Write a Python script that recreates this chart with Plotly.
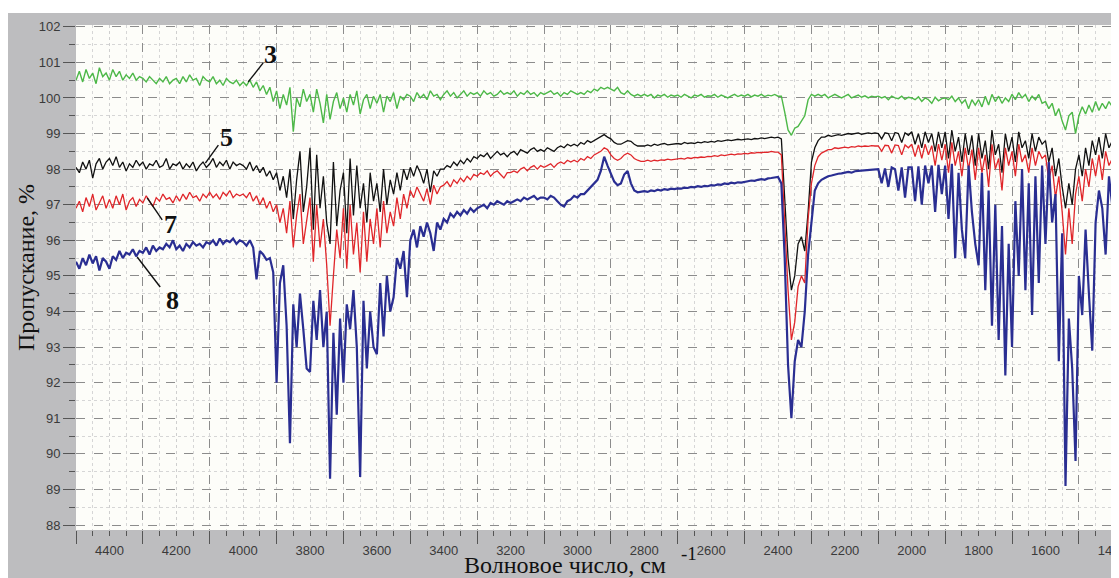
import plotly.graph_objects as go

# ---------------- data ----------------
wavenumber = list(range(4500, 1379, -10))  # cm-1 sampling grid, 4500 ... 1380

label_wavenumbers = [4400, 4200, 4000, 3800, 3600, 3400, 3200, 3000, 2800,
                     2600, 2400, 2200, 2000, 1800, 1600, 1400]
long_tick_wavenumbers = [4500, 4300, 4100, 3900, 3700, 3500, 3300, 3100, 2900,
                         2700, 2500, 2300, 2100, 1900, 1700, 1500]

# sample 3 (green)
t3 = [
    100.5, 100.75, 100.45, 100.8, 100.55, 100.7, 100.4, 100.85, 100.6, 100.7,
    100.5, 100.8, 100.6, 100.75, 100.5, 100.65, 100.55, 100.7, 100.5, 100.6,
    100.55, 100.45, 100.6, 100.5, 100.4, 100.55, 100.45, 100.6, 100.4, 100.5,
    100.55, 100.4, 100.6, 100.45, 100.65, 100.5, 100.55, 100.35, 100.6, 100.5,
    100.45, 100.6, 100.4, 100.5, 100.35, 100.55, 100.45, 100.4, 100.5, 100.35,
    100.45, 100.35, 100.5, 100.3, 100.45, 100.2, 100.35, 100.1, 100.3, 99.9,
    100.2, 99.7, 100.1, 99.8, 100.3, 99.05, 100.0, 99.75, 100.25, 99.9,
    100.1, 99.6, 100.25, 99.85, 99.3, 100.1, 99.4, 99.9, 100.15, 99.7,
    100.0, 99.6, 100.1, 99.8, 100.2, 99.55, 99.95, 100.1, 99.7, 100.05,
    99.85, 100.1, 99.6, 100.05, 99.9, 100.15, 99.7, 100.05, 99.95, 100.1,
    100.05, 99.9, 100.15, 100.0, 100.1, 99.95, 100.2, 100.05, 100.1, 99.95,
    100.1, 100.2, 100.05, 100.15, 100.0, 100.1, 100.2, 100.05, 100.15, 100.1,
    100.15, 100.05, 100.2, 100.1, 100.15, 100.05, 100.1, 100.2, 100.1, 100.15,
    100.1, 100.2, 100.05, 100.15, 100.1, 100.2, 100.1, 100.15, 100.05, 100.15,
    100.1, 100.15, 100.2, 100.1, 100.15, 100.05, 100.15, 100.1, 100.2, 100.15,
    100.1, 100.15, 100.1, 100.2, 100.15, 100.25, 100.2, 100.3, 100.25, 100.3,
    100.25, 100.2, 100.3, 100.15, 100.1, 100.2, 100.1, 100.05, 100.1, 100.05,
    100.1, 100.05, 100.1, 100.0, 100.08, 100.05, 100.1, 100.02, 100.08, 100.05,
    100.08, 100.02, 100.1, 100.05, 100.0, 100.08, 100.05, 100.1, 100.02, 100.06,
    100.05, 100.1, 100.02, 100.08, 100.05, 100.0, 100.06, 100.1, 100.04, 100.08,
    100.05, 100.1, 100.03, 100.08, 100.05, 100.1, 100.04, 100.08, 100.06, 100.1,
    100.05, 100.05, 99.6, 99.1, 98.95, 99.15, 99.2, 99.35, 99.5, 99.95,
    100.1, 100.05, 100.1, 100.05, 100.1, 100.0, 100.05, 100.1, 100.05, 100.0,
    100.05, 100.1, 100.0, 100.05, 100.08, 100.02, 100.06, 100.0, 100.05, 100.03,
    100.05, 100.0, 100.04, 99.95, 100.05, 100.0, 99.98, 100.05, 99.96, 100.02,
    100.0, 99.95, 100.03, 99.9, 100.0, 99.95, 99.85, 100.02, 99.92, 99.98,
    100.0, 99.95, 100.05, 99.9, 100.0, 99.85, 99.95, 99.7, 99.95, 99.8,
    99.95, 99.75, 100.05, 99.8, 100.1, 99.9, 100.05, 99.85, 100.0, 99.9,
    100.1, 99.95, 100.15, 100.0, 100.1, 99.9, 100.05, 99.95, 100.1, 99.85,
    99.9, 99.7, 99.85, 99.5, 99.7, 99.35, 99.1, 99.5, 99.6, 99.0,
    99.5, 99.75, 99.55, 99.8, 99.6, 99.9, 99.65, 99.85, 99.7, 99.9,
    99.75, 99.95, 99.8,
]

# sample 5 (black)
t5 = [
    98.05, 97.9, 98.2, 98.0, 98.25, 97.75, 98.15, 98.3, 98.0, 98.2,
    98.3, 98.1, 98.35, 98.05, 98.2, 97.95, 98.15, 98.05, 98.25, 98.1,
    98.2, 98.0, 98.15, 98.1, 98.25, 98.05, 98.1, 98.3, 98.0, 98.15,
    98.1, 98.2, 98.0, 98.15, 98.05, 98.2, 97.95, 98.1, 98.2, 98.05,
    98.15, 98.3, 98.05, 98.2, 98.1, 98.25, 98.0, 98.2, 98.1, 98.15,
    98.1, 98.0, 98.2, 97.95, 98.1, 97.9, 98.05, 97.8, 97.95, 97.7,
    97.9, 97.4, 97.8, 97.2, 98.0, 96.6, 97.7, 98.5, 96.8, 97.5,
    98.6, 96.3, 98.4, 96.9, 97.8, 96.5, 95.9, 98.2, 96.4, 97.4,
    97.9, 96.2, 98.3, 96.7, 98.1, 96.9, 97.6, 96.5, 97.9, 97.1,
    97.6, 96.8, 98.0, 97.0, 97.7, 97.3, 97.9, 97.4, 98.0, 97.7,
    98.05, 97.8, 98.1, 97.9, 97.6, 98.0, 97.35, 97.95, 97.8, 98.0,
    98.0, 98.1, 98.05, 98.2, 98.1, 98.25, 98.15, 98.3, 98.2, 98.35,
    98.3, 98.4, 98.35, 98.45, 98.3, 98.4, 98.5, 98.4, 98.45, 98.35,
    98.45, 98.5, 98.4, 98.55, 98.5, 98.45, 98.55, 98.6, 98.5, 98.55,
    98.5, 98.6, 98.55, 98.5, 98.6, 98.65, 98.6, 98.7, 98.65, 98.7,
    98.65, 98.75, 98.7, 98.8, 98.75, 98.8, 98.85, 98.9, 98.97, 98.9,
    98.85, 98.75, 98.7, 98.7, 98.75, 98.8, 98.78, 98.7, 98.65, 98.65,
    98.65, 98.68, 98.65, 98.7, 98.67, 98.7, 98.72, 98.68, 98.7, 98.72,
    98.72, 98.7, 98.75, 98.72, 98.74, 98.72, 98.76, 98.74, 98.77, 98.75,
    98.78, 98.76, 98.8, 98.78, 98.8, 98.82, 98.8, 98.82, 98.84, 98.82,
    98.84, 98.85, 98.83, 98.86, 98.85, 98.88, 98.86, 98.88, 98.9, 98.88,
    98.9, 98.85, 97.0, 95.5, 94.6, 95.0, 95.9, 96.1, 95.7, 96.8,
    98.2, 98.6, 98.8, 98.9, 98.9, 98.95, 98.92, 98.95, 98.97, 98.95,
    98.97, 99.0, 98.98, 99.0, 99.02, 98.98, 99.0, 99.02, 99.0, 99.02,
    99.0, 98.85, 99.02, 99.0, 98.8, 99.03, 99.0, 98.75, 99.02, 98.95,
    99.05, 98.7, 99.0, 98.6, 99.05, 98.75, 99.0, 98.5, 99.05, 98.6,
    99.05, 98.3, 99.1, 98.5, 98.9, 98.2, 99.0, 98.4, 98.95, 98.1,
    99.0, 98.3, 98.8, 98.0, 99.1, 98.4, 98.7, 97.9, 99.0, 98.5,
    98.9, 98.2, 99.05, 98.6, 98.8, 98.3, 99.0, 98.5, 98.9, 98.7,
    98.8, 98.2, 98.6, 97.8, 98.3, 97.5, 96.9, 97.6, 97.0, 98.0,
    98.4, 97.8, 98.6, 98.1, 98.8, 98.4, 98.9, 98.3, 99.0, 98.6,
    98.8, 98.5, 98.9,
]

# sample 7 (red)
t7 = [
    96.9, 97.1, 96.8, 97.2, 96.95, 97.3, 96.85, 97.05, 97.25, 96.9,
    97.15, 96.9, 97.25, 97.0, 97.3, 96.85, 97.1, 97.2, 96.95, 97.15,
    97.05, 97.25, 97.1, 96.95, 97.2, 97.1, 97.3, 97.15, 97.2, 97.05,
    97.25, 97.1, 97.3, 97.15, 97.35, 97.2, 97.25, 97.1, 97.3, 97.2,
    97.35, 97.2, 97.3, 97.15, 97.35, 97.25, 97.4, 97.2, 97.3, 97.25,
    97.3, 97.2, 97.35, 97.1, 97.25, 97.0, 97.2, 96.9, 97.1, 96.8,
    97.0, 96.5, 96.9, 96.2, 97.1, 95.8, 96.7, 97.3, 95.9, 96.6,
    97.2, 95.4, 97.0, 95.8, 96.6, 95.3, 93.6, 95.0, 96.3, 95.5,
    96.9, 95.2, 97.0, 95.6, 96.5, 95.1, 96.8, 95.4, 96.6, 95.9,
    96.9, 95.8, 97.1, 96.2, 96.8, 96.4, 97.2, 96.6, 97.3, 96.9,
    97.4, 97.2, 97.5, 97.3, 97.1, 97.45, 97.0, 97.55, 97.3, 97.5,
    97.55, 97.65, 97.5, 97.7, 97.6, 97.75, 97.65, 97.8, 97.7, 97.85,
    97.8, 97.9, 97.85, 97.95, 97.8, 97.9, 97.95, 97.85, 97.75, 97.9,
    97.9, 97.95, 97.9, 98.0, 98.05, 97.95, 98.05, 98.1, 98.0, 98.1,
    98.05, 98.1, 98.15, 98.05, 98.15, 98.2, 98.15, 98.25, 98.2, 98.25,
    98.2, 98.3, 98.25, 98.35, 98.3, 98.4, 98.45, 98.5, 98.6, 98.55,
    98.4, 98.3, 98.25, 98.3, 98.4, 98.45, 98.4, 98.3, 98.25, 98.22,
    98.22, 98.25, 98.22, 98.25, 98.23, 98.26, 98.25, 98.28, 98.26, 98.28,
    98.28, 98.3, 98.28, 98.32, 98.3, 98.33, 98.32, 98.34, 98.33, 98.36,
    98.35, 98.38, 98.36, 98.4, 98.38, 98.4, 98.42, 98.4, 98.43, 98.42,
    98.44, 98.43, 98.46, 98.45, 98.47, 98.46, 98.48, 98.47, 98.5, 98.48,
    98.48, 98.4, 96.5, 94.6, 93.2, 93.7, 94.7, 95.0, 94.8, 96.6,
    97.6, 98.1, 98.35, 98.45, 98.5, 98.55, 98.55, 98.6, 98.58, 98.6,
    98.62, 98.6, 98.63, 98.62, 98.65, 98.63, 98.65, 98.64, 98.66, 98.65,
    98.65, 98.5, 98.67, 98.66, 98.45, 98.68, 98.66, 98.4, 98.68, 98.6,
    98.7, 98.35, 98.68, 98.3, 98.7, 98.4, 98.66, 98.1, 98.7, 98.25,
    98.7, 97.9, 98.75, 98.1, 98.5, 97.8, 98.6, 98.0, 98.55, 97.7,
    98.6, 97.9, 98.4, 97.5, 98.7, 98.0, 98.3, 97.4, 98.6, 98.1,
    98.5, 97.8, 98.7, 98.2, 98.4, 97.9, 98.6, 98.1, 98.5, 98.3,
    98.4, 97.7, 98.1, 97.2, 97.8, 96.8, 95.6, 96.9, 95.9, 97.3,
    97.8, 97.1, 98.0, 97.5, 98.3, 97.8, 98.4, 97.7, 98.5, 98.1,
    98.3, 97.9, 98.4,
]

# sample 8 (blue)
t8 = [
    95.4, 95.2, 95.5, 95.3, 95.6, 95.35, 95.55, 95.15, 95.5, 95.4,
    95.2, 95.55, 95.45, 95.7, 95.5, 95.65, 95.6, 95.75, 95.55, 95.7,
    95.65, 95.8, 95.6, 95.85, 95.7, 95.8, 95.75, 95.9, 95.8, 96.0,
    95.75, 95.85, 95.7, 95.9, 95.8, 95.95, 95.85, 95.9, 95.8, 95.95,
    95.9, 96.0, 95.85, 96.05, 95.9, 96.0, 95.95, 96.05, 95.9, 96.0,
    95.95, 95.85, 96.0, 95.8, 94.9, 95.7, 95.6, 95.45, 95.5, 95.1,
    92.0, 94.8, 95.3, 93.6, 90.3, 94.2, 93.0, 94.5, 93.5, 92.4,
    92.3, 94.3, 93.2, 94.6, 93.0, 94.0, 89.3, 93.4, 91.1, 93.8,
    92.0, 94.2, 93.5, 94.6, 93.0, 89.35, 94.3, 92.4, 94.0, 93.0,
    92.8, 94.8, 93.3, 95.0, 94.0, 94.4, 95.5, 95.2, 95.7, 94.4,
    96.0, 96.3, 95.8, 96.4, 96.1, 96.5, 96.2, 95.7, 96.5, 96.3,
    96.6, 96.5, 96.75, 96.65, 96.8, 96.7, 96.85, 96.75, 96.9, 96.8,
    96.9, 96.95, 97.0, 96.9, 97.05, 97.0, 97.1, 97.05, 97.0, 97.1,
    97.05, 97.1, 97.15, 97.1, 97.2, 97.15, 97.2, 97.25, 97.15, 97.2,
    97.2, 97.15, 97.25, 97.2, 97.1, 97.0, 96.95, 97.1, 97.15, 97.25,
    97.2, 97.3, 97.3, 97.4, 97.5, 97.6, 97.7, 97.95, 98.35, 98.1,
    97.85, 97.65, 97.55, 97.6, 97.85, 97.95, 97.6, 97.4, 97.35, 97.36,
    97.38, 97.36, 97.4, 97.38, 97.42, 97.4, 97.44, 97.42, 97.45, 97.44,
    97.46, 97.45, 97.48, 97.47, 97.5, 97.49, 97.52, 97.5, 97.53, 97.52,
    97.55, 97.54, 97.57, 97.56, 97.6, 97.58, 97.62, 97.6, 97.63, 97.62,
    97.65, 97.66, 97.68, 97.67, 97.7, 97.72, 97.7, 97.74, 97.75, 97.76,
    97.78, 97.6, 95.5, 92.5, 91.0, 92.6, 93.2, 93.0, 94.0, 95.6,
    96.6, 97.4, 97.6, 97.7, 97.75, 97.8, 97.82, 97.85, 97.87, 97.88,
    97.9, 97.92, 97.9, 97.94, 97.95, 97.96, 97.97, 97.98, 98.0, 98.0,
    98.0, 97.6, 98.02, 97.5, 98.05, 98.0, 97.4, 98.05, 97.2, 98.05,
    98.05, 97.1, 98.08, 97.0, 98.1, 97.6, 98.1, 96.8, 98.12, 97.3,
    98.1, 96.6, 98.15, 95.5, 97.9, 96.3, 95.5, 98.1, 96.8, 95.9,
    95.3, 97.9, 94.6, 97.4, 93.6, 97.0, 93.2, 96.4, 92.2, 95.9,
    93.0, 97.1, 95.0, 98.0, 94.6, 97.6, 93.9, 97.8, 94.8, 98.1,
    95.9, 98.2, 96.5, 97.3, 92.6, 96.2, 89.1, 93.8, 92.4, 89.8,
    95.0, 93.9, 96.3, 94.5, 92.9, 96.5, 97.4, 96.9, 95.6, 97.8,
    96.96, 98.1, 97.6,
]

sample_labels = ["3", "5", "7", "8"]
label_tip_wavenumber = [3985, 4113, 4287, 4317]
label_tip_value = [100.45, 98.17, 97.19, 95.53]
leader_px = [(15, 19), (13, 18), (15, -22), (23, -30)]       # line end offset (right, up)
label_text_px = [(22, 27), (21, 26), (23, -27), (35, -43)]   # text centre offset (right, up)

# ---------------- figure ----------------
# the page body has an 8 px margin: the figure is sized so that it fills the window
BODY = 8
WIN_W, WIN_H = 1119, 578
W, H = WIN_W - BODY, WIN_H - BODY
PLOT_L, PLOT_R, PLOT_T, PLOT_B = 76, 1119, 25, 530   # window pixels
ML, MR = PLOT_L - BODY, WIN_W - PLOT_R
MT, MB = PLOT_T - BODY, WIN_H - PLOT_B
PW, PH = W - ML - MR, H - MT - MB

def px_to_paper_x(px):
    return (px - BODY - ML) / PW

def px_to_paper_y(py):
    return (H - MB - (py - BODY)) / PH

fig = go.Figure()
styles = [
    (t3, "#4db848", 1.4, "x2"),
    (t5, "#111111", 1.3, "x"),
    (t7, "#e0262a", 1.3, "x"),
    (t8, "#2a2e92", 2.2, "x"),
]
for (vals, col, w, xa), name in zip(styles, sample_labels):
    fig.add_trace(go.Scatter(x=wavenumber, y=vals, mode="lines", name=name,
                             line=dict(color=col, width=w), xaxis=xa, yaxis="y",
                             showlegend=False, hoverinfo="skip"))

tick_font = dict(family="Liberation Sans, Arial, sans-serif", size=13, color="#3a3a3a")
serif = "Liberation Serif, Times New Roman, serif"

fig.update_layout(
    width=W, height=H,
    margin=dict(l=ML, r=MR, t=MT, b=MB, pad=0),
    paper_bgcolor="#bdbdbf",
    plot_bgcolor="#fdfdf9",
    showlegend=False,
    xaxis=dict(
        range=[4500, 1380], tickmode="array", tickvals=label_wavenumbers,
        ticktext=[str(v) for v in label_wavenumbers],
        ticks="outside", ticklen=5, tickwidth=1, tickcolor="#555555",
        tickfont=tick_font, ticklabelstandoff=3, ticklabeloverflow="allow",
        showgrid=True, gridcolor="#cfcfcf", griddash="dot", gridwidth=1,
        minor=dict(dtick=50, tick0=4500, ticks="outside", ticklen=5, tickwidth=1,
                   tickcolor="#555555", showgrid=True, gridcolor="#d6d6d6",
                   griddash="dot", gridwidth=1),
        zeroline=False, showline=False, automargin=False,
    ),
    xaxis2=dict(
        range=[4500, 1380], overlaying="x", anchor="y", side="bottom",
        tickmode="array", tickvals=long_tick_wavenumbers,
        showticklabels=False, ticks="outside", ticklen=13, tickwidth=1,
        tickcolor="#555555", showgrid=True, gridcolor="#8c8c8c",
        griddash="dash", gridwidth=1, zeroline=False, showline=False,
    ),
    yaxis=dict(
        range=[87.86, 102.05], tick0=88, dtick=1,
        ticks="outside", ticklen=12, tickwidth=1, tickcolor="#555555",
        tickfont=tick_font, automargin=False,
        showgrid=True, gridcolor="#8c8c8c", griddash="dash", gridwidth=1,
        minor=dict(dtick=0.5, tick0=88, ticks="outside", ticklen=6, tickwidth=1,
                   tickcolor="#555555", showgrid=True, gridcolor="#d6d6d6",
                   griddash="dot", gridwidth=1),
        zeroline=False, showline=False,
    ),
)

# white band above the grey frame (as in the scanned figure)
fig.add_shape(type="rect", xref="paper", yref="paper", layer="below",
              x0=px_to_paper_x(0), x1=px_to_paper_x(WIN_W), y0=px_to_paper_y(13),
              y1=px_to_paper_y(0), fillcolor="white", line_width=0)

# axis titles
fig.add_annotation(text="Пропускание, %", xref="paper", yref="paper",
                   x=px_to_paper_x(26), y=px_to_paper_y(268), textangle=-90,
                   showarrow=False, xanchor="center", yanchor="middle",
                   font=dict(family=serif, size=24, color="#111111"))
fig.add_annotation(text="Волновое число, см", xref="paper", yref="paper",
                   x=px_to_paper_x(565), y=px_to_paper_y(565),
                   showarrow=False, xanchor="center", yanchor="middle",
                   font=dict(family=serif, size=24, color="#111111"))
fig.add_annotation(text="-1", xref="paper", yref="paper",
                   x=px_to_paper_x(689), y=px_to_paper_y(553),
                   showarrow=False, xanchor="center", yanchor="middle",
                   font=dict(family=serif, size=19, color="#111111"))

# curve labels with leader lines
for lab, wx, wy, (lx, ly), (tx, ty) in zip(sample_labels, label_tip_wavenumber,
                                          label_tip_value, leader_px, label_text_px):
    fig.add_shape(type="line", xref="x", yref="y", xsizemode="pixel",
                  ysizemode="pixel", xanchor=wx, yanchor=wy,
                  x0=0, y0=0, x1=lx, y1=ly,
                  line=dict(color="#111111", width=1.4))
    fig.add_annotation(text="<b>%s</b>" % lab, x=wx, y=wy, xref="x", yref="y",
                       xshift=tx, yshift=ty, showarrow=False,
                       xanchor="center", yanchor="middle",
                       font=dict(family=serif, size=26, color="#111111"))

fig.write_html("out.html")
